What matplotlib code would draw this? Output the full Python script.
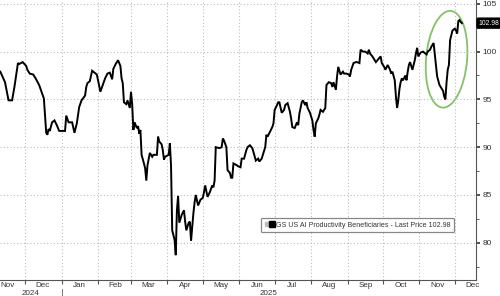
import matplotlib
matplotlib.use('Agg')
import matplotlib.pyplot as plt
import matplotlib.dates as mdates
import pandas as pd
from matplotlib.patches import Ellipse
from matplotlib.lines import Line2D
from matplotlib.legend_handler import HandlerTuple
from matplotlib.transforms import ScaledTranslation, blended_transform_factory

# daily closes (GS US AI Productivity Beneficiaries)
dates = [
    '2024-11-10', '2024-11-14', '2024-11-17', '2024-11-20', '2024-11-22', '2024-11-25',
    '2024-11-26', '2024-11-29',
    '2024-12-02', '2024-12-03', '2024-12-05', '2024-12-08', '2024-12-10', '2024-12-13',
    '2024-12-15', '2024-12-17', '2024-12-19', '2024-12-20', '2024-12-21', '2024-12-22',
    '2024-12-24', '2024-12-26', '2024-12-28', '2024-12-30',
    '2025-01-01', '2025-01-04', '2025-01-05', '2025-01-07', '2025-01-10', '2025-01-12',
    '2025-01-14', '2025-01-16', '2025-01-18', '2025-01-21', '2025-01-22', '2025-01-23',
    '2025-01-25', '2025-01-27', '2025-01-29', '2025-01-31',
    '2025-02-03', '2025-02-05', '2025-02-07', '2025-02-09', '2025-02-11', '2025-02-13',
    '2025-02-14', '2025-02-16', '2025-02-18', '2025-02-20', '2025-02-21', '2025-02-22',
    '2025-02-23', '2025-02-25', '2025-02-26', '2025-02-28',
    '2025-03-01', '2025-03-02', '2025-03-03', '2025-03-04', '2025-03-06', '2025-03-07',
    '2025-03-08', '2025-03-09', '2025-03-10', '2025-03-12', '2025-03-13', '2025-03-14',
    '2025-03-15', '2025-03-17', '2025-03-19', '2025-03-20', '2025-03-23', '2025-03-24',
    '2025-03-25', '2025-03-27', '2025-03-28', '2025-03-29', '2025-03-30',
    '2025-04-02', '2025-04-03', '2025-04-04', '2025-04-05', '2025-04-07', '2025-04-08',
    '2025-04-09', '2025-04-10', '2025-04-11', '2025-04-13', '2025-04-15', '2025-04-16',
    '2025-04-17', '2025-04-19', '2025-04-20', '2025-04-21', '2025-04-23', '2025-04-24',
    '2025-04-25', '2025-04-27', '2025-04-29',
    '2025-05-01', '2025-05-02', '2025-05-03', '2025-05-05', '2025-05-07', '2025-05-09',
    '2025-05-10', '2025-05-11', '2025-05-12', '2025-05-15', '2025-05-17', '2025-05-18',
    '2025-05-19', '2025-05-21', '2025-05-22', '2025-05-24', '2025-05-25', '2025-05-26',
    '2025-05-27', '2025-05-30', '2025-05-31',
    '2025-06-02', '2025-06-03', '2025-06-05', '2025-06-07', '2025-06-08', '2025-06-10',
    '2025-06-12', '2025-06-13', '2025-06-15', '2025-06-17', '2025-06-18', '2025-06-20',
    '2025-06-21', '2025-06-23', '2025-06-24', '2025-06-25', '2025-06-27', '2025-06-29',
    '2025-06-30',
    '2025-07-01', '2025-07-03', '2025-07-04', '2025-07-05', '2025-07-07', '2025-07-09',
    '2025-07-10', '2025-07-12', '2025-07-14', '2025-07-15', '2025-07-16', '2025-07-18',
    '2025-07-20', '2025-07-21', '2025-07-22', '2025-07-24', '2025-07-25', '2025-07-27',
    '2025-07-28', '2025-07-29', '2025-07-31',
    '2025-08-02', '2025-08-03', '2025-08-04', '2025-08-05', '2025-08-07', '2025-08-08',
    '2025-08-09', '2025-08-11', '2025-08-12', '2025-08-13', '2025-08-14', '2025-08-16',
    '2025-08-18', '2025-08-19', '2025-08-20', '2025-08-22', '2025-08-23', '2025-08-24',
    '2025-08-26', '2025-08-28', '2025-08-29', '2025-08-31',
    '2025-09-02', '2025-09-03', '2025-09-04', '2025-09-06', '2025-09-08', '2025-09-09',
    '2025-09-11', '2025-09-12', '2025-09-13', '2025-09-14', '2025-09-16', '2025-09-18',
    '2025-09-19', '2025-09-20', '2025-09-22', '2025-09-24', '2025-09-25', '2025-09-27',
    '2025-09-29', '2025-09-30',
    '2025-10-02', '2025-10-03', '2025-10-05', '2025-10-07', '2025-10-08', '2025-10-09',
    '2025-10-11', '2025-10-12', '2025-10-13', '2025-10-14', '2025-10-15', '2025-10-16',
    '2025-10-17', '2025-10-18', '2025-10-20', '2025-10-21', '2025-10-22', '2025-10-23',
    '2025-10-24', '2025-10-26', '2025-10-28', '2025-10-29', '2025-10-30', '2025-10-31',
    '2025-11-01', '2025-11-02', '2025-11-04', '2025-11-05', '2025-11-07', '2025-11-08',
    '2025-11-10', '2025-11-11', '2025-11-13', '2025-11-14', '2025-11-15', '2025-11-16',
    '2025-11-18', '2025-11-19', '2025-11-20', '2025-11-21', '2025-11-22', '2025-11-23',
    '2025-11-24', '2025-11-25', '2025-11-26', '2025-11-27', '2025-11-29',
    '2025-12-01', '2025-12-02', '2025-12-03', '2025-12-04', '2025-12-05', '2025-12-06',
    '2025-12-07',
]
prices = [
    97.9, 96.8, 94.9, 94.9, 96.3, 98.8,
    98.7, 98.9,
    98.5, 98.1, 97.7, 97.6, 97.2, 96.5,
    95.8, 95.1, 91.5, 91.3, 91.9, 91.7,
    92.6, 92.8, 92.3, 91.7,
    91.7, 91.7, 93.3, 92.6, 92.6, 91.5,
    92.5, 94.2, 94.9, 95.4, 96.3, 96.7,
    96.9, 98.0, 97.8, 97.6,
    95.8, 96.5, 97.2, 97.7, 97.8, 97.1,
    98.2, 98.7, 99.1, 98.5, 97.2, 96.7,
    94.7, 94.5, 94.9, 94.1,
    95.8, 94.5, 91.8, 92.6, 92.0, 92.2,
    91.4, 91.8, 89.2, 88.3, 87.8, 86.5,
    88.1, 89.4, 89.0, 89.2, 89.2, 91.1,
    90.6, 90.3, 89.7, 88.7, 89.0,
    89.2, 90.4, 88.1, 81.3, 80.3, 78.7,
    83.4, 84.9, 82.1, 82.9, 83.4, 82.2,
    81.3, 82.1, 82.2, 80.2, 83.1, 84.2,
    85.0, 83.9, 84.5,
    84.7, 85.3, 86.0, 84.8, 85.3, 86.0,
    85.8, 86.5, 90.0, 89.9, 90.0, 90.9,
    90.7, 90.0, 87.6, 87.3, 86.8, 86.8,
    88.3, 88.1, 88.0,
    87.9, 88.8, 88.8, 89.7, 90.0, 90.2,
    89.9, 89.5, 88.6, 88.8, 88.5, 88.8,
    89.2, 90.0, 91.3, 91.1, 91.6, 92.1,
    92.5,
    93.9, 94.4, 94.7, 94.7, 93.6, 93.9,
    94.4, 94.6, 93.7, 93.0, 92.1, 92.0,
    92.6, 92.3, 93.5, 94.7, 94.9, 94.4,
    94.7, 94.1, 93.6,
    92.8, 91.8, 91.1, 92.5, 93.0, 93.4,
    93.9, 93.7, 93.9, 94.1, 96.5, 96.8,
    96.7, 96.3, 96.8, 96.0, 97.4, 98.4,
    97.6, 97.9, 97.7, 97.7,
    97.6, 97.4, 98.1, 98.8, 98.9, 98.9,
    98.8, 100.2, 100.1, 100.0, 100.0, 99.8,
    100.2, 99.8, 99.5, 99.1, 98.9, 99.2,
    99.5, 98.8,
    98.4, 98.1, 98.6, 98.1, 97.7, 97.9,
    97.0, 95.3, 94.1, 94.9, 96.1, 96.8,
    97.2, 97.0, 97.5, 97.0, 97.9, 98.6,
    98.9, 98.1, 99.1, 99.8, 100.4, 99.5,
    99.7, 99.9, 100.0, 99.9, 99.7, 100.0,
    100.2, 100.5, 100.9, 99.7, 98.4, 97.4,
    96.5, 96.3, 96.1, 95.9, 95.3, 95.0,
    96.8, 98.1, 98.6, 101.2, 102.2,
    102.4, 102.2, 101.9, 103.2, 103.3, 103.1,
    102.98,
]
month_labels = ['Nov', 'Dec', 'Jan', 'Feb', 'Mar', 'Apr', 'May', 'Jun',
                'Jul', 'Aug', 'Sep', 'Oct', 'Nov', 'Dec']
year_labels = ['2024', '2025']
y_ticks = [80, 85, 90, 95, 100, 105]
series_name = 'GS US AI Productivity Beneficiaries - Last Price 102.98'
last_price = 102.98

dates = pd.to_datetime(dates)
x_start = pd.Timestamp('2024-11-09 18:00')
x_end = pd.Timestamp('2025-12-19')
jan1 = pd.Timestamp('2025-01-01')

plt.rcParams['font.family'] = ['Liberation Sans', 'DejaVu Sans']

fig = plt.figure(figsize=(5.0, 2.96), dpi=100)
ax = fig.add_axes([0.0, 0.054, 0.952, 0.946])

ax.plot(dates, prices, color='black', lw=1.4, solid_joinstyle='miter')

ax.set_xlim(x_start, x_end)
ax.set_ylim(76.1, 105.4)

# grid + spines
grid_kw = dict(color='#bdbdbd', lw=0.8, ls=(0, (1, 2)))
ax.grid(True, which='major', axis='both', **grid_kw)
for s in ['top', 'left']:
    ax.spines[s].set_visible(False)
ax.spines['bottom'].set_color('#555555')
ax.spines['right'].set_color('#555555')
ax.spines['bottom'].set_linewidth(0.8)
ax.spines['right'].set_linewidth(0.8)

# x axis: ticks at month starts, labels mid-month
month_starts = pd.date_range('2024-12-01', '2025-12-01', freq='MS')
ax.set_xticks(month_starts)
ax.set_xticklabels([])
mids = pd.date_range('2024-11-01', '2025-12-01', freq='MS') + pd.Timedelta(days=15)
ax.set_xticks(mids, minor=True)
ax.set_xticklabels(month_labels, minor=True)
ax.tick_params(axis='x', which='major', length=3, width=0.8, color='#555555')
ax.tick_params(axis='x', which='minor', length=0, pad=1.2, labelsize=5.8, labelcolor='#333333')

# year row
trans = blended_transform_factory(ax.transData, ax.transAxes)
mid24 = x_start + (jan1 - x_start) / 2
mid25 = jan1 + (x_end - jan1) / 2
ax.text(mid24, -0.049, year_labels[0], transform=trans, ha='center', va='center',
        fontsize=5.8, color='#333333')
ax.text(mid25, -0.049, year_labels[1], transform=trans, ha='center', va='center',
        fontsize=5.8, color='#333333')
ax.plot([jan1, jan1], [-0.033, -0.06], transform=trans, color='#777777', lw=0.7,
        clip_on=False)

# y axis on the right
ax.yaxis.tick_right()
ax.set_yticks(y_ticks)
ax.set_yticks([77.5, 82.5, 87.5, 92.5, 97.5, 102.5], minor=True)
ax.tick_params(axis='y', which='major', length=3, width=1.2, color='#333333',
               labelsize=6.0, labelcolor='#333333', pad=1.5)
ax.tick_params(axis='y', which='minor', length=2, width=0.7, color='#555555')

# last price tag
ax.annotate(f'{last_price:.2f}', xy=(1.0, last_price),
            xycoords=('axes fraction', 'data'), xytext=(1.8, 0),
            textcoords='offset points', ha='left', va='center',
            fontsize=4.9, color='white', annotation_clip=False,
            bbox=dict(boxstyle='round,pad=0.22', fc='black', ec='black'))

# green highlight ellipse around the recent swing
e_center = (mdates.date2num(pd.Timestamp('2025-11-24')), 99.2)
ell = Ellipse((0, 0), 0.41, 0.97, angle=-5, fill=False, ec='#86c167', lw=1.3,
              transform=fig.dpi_scale_trans + ScaledTranslation(*e_center, ax.transData))
ax.add_patch(ell)

# legend
h_gray = Line2D([], [], marker='s', ls='', color='#bdbdbd', ms=2.3)
h_black = Line2D([], [], marker='s', ls='', color='black', ms=4.2)
leg = ax.legend([(h_gray, h_black)], [series_name],
                handler_map={tuple: HandlerTuple(ndivide=None, pad=0.1)},
                loc='lower left', bbox_to_anchor=(0.548, 0.171), borderaxespad=0,
                fontsize=5.15, handlelength=1.3, handletextpad=0.3,
                borderpad=0.5, fancybox=True, framealpha=1)
leg.get_frame().set_edgecolor('#888888')
leg.get_frame().set_linewidth(0.9)
for t in leg.get_texts():
    t.set_color('#333333')

fig.savefig('out.png', dpi=100)
